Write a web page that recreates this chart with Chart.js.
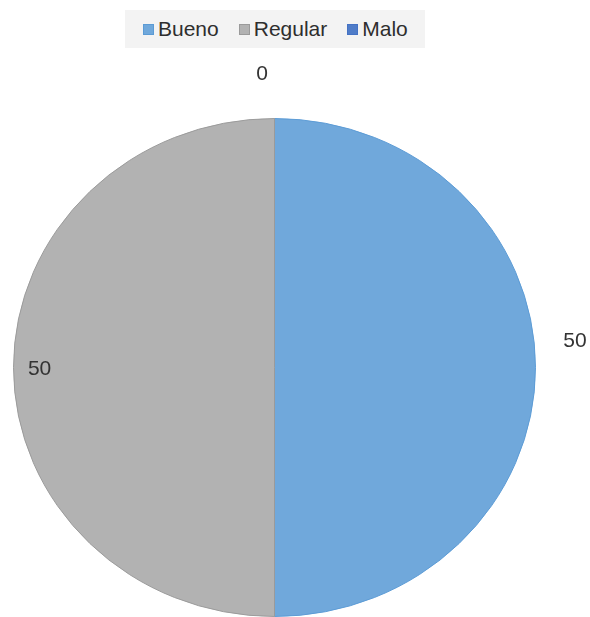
<!DOCTYPE html>
<html>
<head>
<meta charset="utf-8">
<script src="https://cdn.jsdelivr.net/npm/chart.js@4/dist/chart.umd.min.js"></script>
<style>
  html, body { margin: 0; padding: 0; background: #fff; overflow: hidden; }
  #wrap { position: relative; width: 590px; height: 617px; overflow: hidden; }
  #pie { position: absolute; left: 0; top: 0; }
  #legend {
    position: absolute; left: 125px; top: 10px; width: 300px; height: 38px;
    background: #f3f3f3; display: flex; align-items: center; padding-left: 18px;
    box-sizing: border-box; font: 21px "Liberation Sans", Arial, sans-serif; color: #2e2e2e;
  }
  #legend .item { display: flex; align-items: center; margin-right: 20px; }
  #legend .sw { width: 11px; height: 11px; box-sizing: border-box; margin-right: 4px; border: 1px solid; }
</style>
</head>
<body>
<div id="wrap">
  <canvas id="pie" width="590" height="645"></canvas>
  <div id="legend"></div>
</div>
<script>
// categories and values
var labels = ['Bueno', 'Regular', 'Malo'];
var values = [50, 50, 0];

// slice colours
var fills   = ['#70a8db', '#b2b2b2', '#4f7cc8'];
var borders = ['#5b9bd5', '#9a9a9a', '#4472c4'];

// label placement per slice: radius factor, angle nudge (rad)
var labelRadius = [1.156, 0.90, 1.18];
var labelNudge  = [-0.092, -0.009, -0.040];

// the original pie is a little squashed vertically
var squashY = 0.954;

// html legend, built from the arrays
var lg = document.getElementById('legend');
labels.forEach(function (name, i) {
  var it = document.createElement('div');
  it.className = 'item';
  var sw = document.createElement('span');
  sw.className = 'sw';
  sw.style.background = fills[i];
  sw.style.borderColor = borders[i];
  it.appendChild(sw);
  it.appendChild(document.createTextNode(name));
  lg.appendChild(it);
});

// squash + value labels, Excel style
var pieExtras = {
  id: 'pieExtras',
  beforeDatasetsDraw: function (chart) {
    var arc = chart.getDatasetMeta(0).data[0];
    var ctx = chart.ctx;
    ctx.save();
    ctx.translate(arc.x, arc.y);
    ctx.scale(1, squashY);
    ctx.translate(-arc.x, -arc.y);
  },
  afterDatasetsDraw: function (chart) {
    var ctx = chart.ctx;
    ctx.restore();
    var meta = chart.getDatasetMeta(0);
    ctx.save();
    ctx.font = '21px "Liberation Sans", Arial, sans-serif';
    ctx.fillStyle = '#333333';
    ctx.textAlign = 'center';
    ctx.textBaseline = 'middle';
    meta.data.forEach(function (arc, i) {
      var p = arc.getProps(['x', 'y', 'startAngle', 'endAngle', 'outerRadius'], true);
      var a = (p.startAngle + p.endAngle) / 2 + labelNudge[i];
      var r = p.outerRadius * labelRadius[i];
      ctx.fillText(String(values[i]), p.x + Math.cos(a) * r, p.y + Math.sin(a) * r * squashY);
    });
    ctx.restore();
  }
};

new Chart(document.getElementById('pie'), {
  type: 'pie',
  data: {
    labels: labels,
    datasets: [{
      data: values,
      backgroundColor: fills,
      borderColor: borders,
      borderWidth: 1
    }]
  },
  options: {
    responsive: false,
    devicePixelRatio: 1,
    animation: false,
    layout: { padding: { left: 13, right: 54, top: 106, bottom: 16 } },
    plugins: {
      legend: { display: false },
      tooltip: { enabled: false }
    }
  },
  plugins: [pieExtras]
});
</script>
</body>
</html>
